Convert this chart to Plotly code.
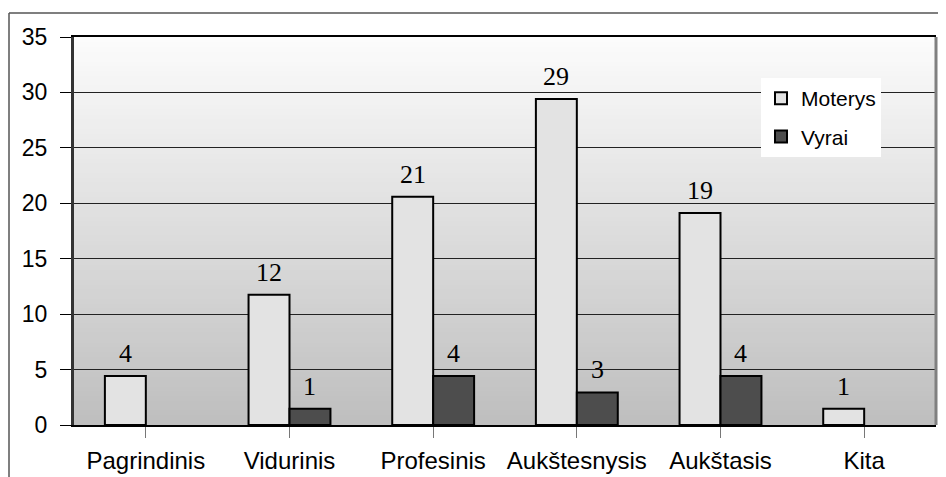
import plotly.graph_objects as go

categories = ["Pagrindinis", "Vidurinis", "Profesinis", "Aukštesnysis", "Aukštasis", "Kita"]
moterys = [4.41, 11.76, 20.59, 29.41, 19.12, 1.47]
vyrai = [0.0, 1.47, 4.41, 2.94, 4.41, 0.0]
y_ticks = [0, 5, 10, 15, 20, 25, 30, 35]

# page has an 8px body margin: figure occupies page x 8..946, y 8..477
W, H = 938, 469
L, R, T, B = 66, 10, 29, 52
pw, ph = W - L - R, H - T - B

fig = go.Figure()
fig.add_trace(go.Bar(name="Moterys", x=categories, y=[v if v > 0 else None for v in moterys],
                     legendgroup="m",
                     marker=dict(color="#e3e3e3", line=dict(color="black", width=2))))
fig.add_trace(go.Bar(name="Vyrai", x=categories, y=[v if v > 0 else None for v in vyrai],
                     legendgroup="v",
                     marker=dict(color="#4d4d4d", line=dict(color="black", width=2))))

# data labels
bar_px = pw / len(categories) * (1 - 0.43) / 2
ann = []
for vals, sh in ((moterys, -bar_px / 2), (vyrai, bar_px / 2)):
    for c, v in zip(categories, vals):
        if v > 0:
            ann.append(dict(x=c, y=v, xref="x", yref="y", text=f"{v:.0f}", showarrow=False,
                            xshift=sh, yshift=6, yanchor="bottom",
                            font=dict(family="Liberation Serif", size=26, color="black")))

# gradient background strips
shapes = []
n = 80
top, bot = 252, 190
for i in range(n):
    f = (i + 0.5) / n
    g = round(top + (bot - top) * f)
    shapes.append(dict(type="rect", xref="x domain", yref="y domain",
                       x0=0, x1=1, y1=1 - i / n, y0=1 - (i + 1) / n - 0.002,
                       fillcolor=f"rgb({g},{g},{g})", line=dict(width=0), layer="below"))
# right plot border (gray)
shapes.append(dict(type="line", xref="x domain", yref="y domain", x0=1, x1=1, y0=0, y1=1,
                   line=dict(color="#808080", width=3)))
# outer chart border (left and top)
ox = (1 - L) / pw
oy = 1 + (T - 5) / ph
shapes.append(dict(type="line", xref="paper", yref="paper", x0=ox, x1=ox, y0=-1, y1=oy,
                   line=dict(color="#555555", width=1.5)))
shapes.append(dict(type="line", xref="paper", yref="paper", x0=ox, x1=2, y0=oy, y1=oy,
                   line=dict(color="#555555", width=1.5)))

fig.update_layout(
    width=W, height=H,
    margin=dict(l=L, r=R, t=T, b=B, autoexpand=False),
    paper_bgcolor="white", plot_bgcolor="white",
    barmode="group", bargap=0.43, bargroupgap=0,
    font=dict(family="Liberation Sans", size=23, color="black"),
    shapes=shapes, annotations=ann,
    showlegend=True,
    legend=dict(x=(753 - L) / pw, y=1 - (70 - T) / ph, xanchor="left", yanchor="top",
                bgcolor="white", borderwidth=0, font=dict(size=21, family="Liberation Sans"),
                traceorder="grouped", tracegroupgap=8,
                entrywidth=88, entrywidthmode="pixels"),
)
fig.update_xaxes(type="category", showline=True, linecolor="black", linewidth=2, mirror=True,
                 ticks="outside", ticklen=11, tickcolor="#777777", tickwidth=1,
                 ticklabelstandoff=2, showgrid=False, tickfont=dict(size=24), automargin=False)
fig.update_yaxes(range=[0, 35], tickvals=y_ticks, showline=True, linecolor="#333333", linewidth=3,
                 ticks="outside", ticklen=11, tickcolor="black", tickwidth=1,
                 showgrid=True, gridcolor="#222222", gridwidth=1, zeroline=False,
                 ticklabelstandoff=8, automargin=False)

fig.write_html("out.html")
